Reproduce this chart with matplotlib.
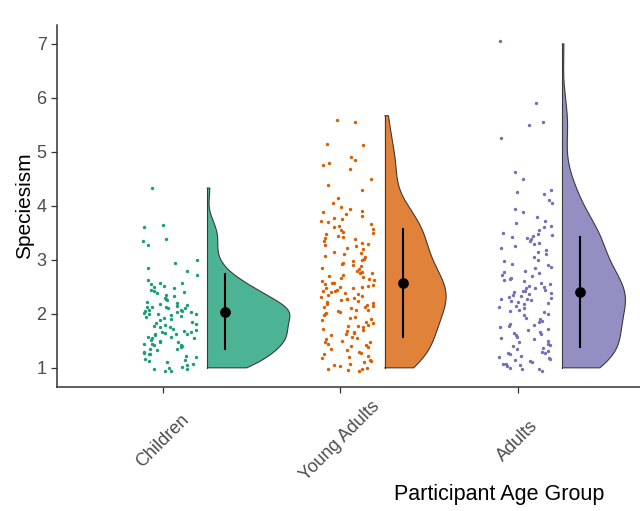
import numpy as np
import matplotlib.pyplot as plt

plt.rcParams['font.family'] = ['Liberation Sans', 'DejaVu Sans']

groups = ["Children", "Young Adults", "Adults"]
colors = ["#1B9E77", "#D95F02", "#7570B3"]

children = [4.33, 3.65, 3.60, 3.38, 3.35, 3.28, 3.00, 2.95, 2.85, 2.80, 2.72,
            2.62, 2.58, 2.57, 2.55, 2.52, 2.50, 2.48,
            2.45, 2.43, 2.40, 2.38, 2.35, 2.33, 2.30, 2.28, 2.25, 2.22, 2.20, 2.18, 2.17,
            2.15, 2.13, 2.12, 2.12, 2.10, 2.10, 2.08, 2.07, 2.05, 2.05, 2.04, 2.03, 2.02,
            2.00, 2.00, 2.00,
            1.98, 1.96, 1.95, 1.93, 1.90, 1.88, 1.85, 1.83, 1.82, 1.80, 1.78, 1.76, 1.75,
            1.72, 1.70, 1.68, 1.67, 1.66, 1.65, 1.63, 1.62, 1.62, 1.60, 1.58, 1.58, 1.55,
            1.55, 1.52, 1.50, 1.48, 1.47, 1.45, 1.45, 1.43, 1.42, 1.40, 1.38, 1.35, 1.35,
            1.33, 1.30, 1.28, 1.25, 1.25, 1.22, 1.20, 1.17, 1.15, 1.13, 1.10, 1.08, 1.05,
            1.02, 1.00, 0.98, 0.97, 0.95, 0.94]

young_adults = [5.60, 5.55, 5.15, 5.13, 4.90, 4.85, 4.80, 4.75, 4.68, 4.50, 4.38, 4.30, 4.15, 4.05,
                3.98, 3.95, 3.90, 3.88, 3.85, 3.82, 3.78, 3.75, 3.72, 3.70, 3.66, 3.62, 3.60, 3.58,
                3.55, 3.52, 3.50, 3.47, 3.45, 3.42, 3.40, 3.38, 3.35, 3.32, 3.30, 3.28, 3.25, 3.22,
                3.20, 3.15, 3.12, 3.10, 3.08, 3.05, 3.02,
                3.00, 2.98, 2.95, 2.93, 2.90, 2.88, 2.85, 2.83, 2.80, 2.78, 2.76, 2.75, 2.72, 2.70,
                2.68, 2.66, 2.65, 2.62, 2.60, 2.58, 2.57, 2.55, 2.53, 2.52, 2.50, 2.50, 2.48, 2.47,
                2.45, 2.43, 2.42, 2.40, 2.38, 2.37, 2.35, 2.33, 2.32, 2.30, 2.28, 2.27, 2.25, 2.23,
                2.22, 2.20, 2.18, 2.17, 2.15, 2.13, 2.12, 2.10, 2.08, 2.07, 2.05, 2.03, 2.02, 2.00,
                1.98, 1.95, 1.93, 1.90, 1.88, 1.85, 1.83, 1.80, 1.78, 1.77, 1.75, 1.72, 1.70, 1.68,
                1.67, 1.65, 1.62, 1.60, 1.58, 1.55, 1.53, 1.50, 1.48, 1.47, 1.45, 1.42, 1.40, 1.38,
                1.35, 1.33, 1.30, 1.28, 1.25, 1.22, 1.20, 1.18, 1.15, 1.12, 1.10, 1.08, 1.05, 1.03,
                1.00, 0.98, 0.97, 0.96, 0.95]

adults = [7.05, 5.90, 5.55, 5.50, 5.25, 4.62, 4.50, 4.30, 4.25, 4.22, 4.10, 4.05, 3.95, 3.88,
          3.80, 3.72, 3.68, 3.62, 3.60, 3.55, 3.50, 3.48, 3.46, 3.45, 3.42, 3.40, 3.38, 3.35,
          3.32, 3.30, 3.25, 3.22, 3.18, 3.15, 3.10, 3.05, 3.00, 2.97, 2.93, 2.90, 2.87, 2.85,
          2.80, 2.78, 2.75, 2.72, 2.70, 2.67, 2.65, 2.62, 2.60, 2.57, 2.55, 2.52, 2.50, 2.48,
          2.47, 2.45, 2.43, 2.42, 2.40, 2.38, 2.37, 2.35, 2.33, 2.32, 2.30, 2.28, 2.27, 2.25,
          2.23, 2.22, 2.20, 2.18, 2.15, 2.12, 2.10, 2.08, 2.05, 2.03, 2.00, 1.97, 1.93, 1.90,
          1.87, 1.85, 1.82, 1.80, 1.77, 1.75, 1.72, 1.70, 1.67, 1.65, 1.62, 1.60, 1.58, 1.55,
          1.53, 1.50, 1.48, 1.45, 1.42, 1.40, 1.37, 1.35, 1.32, 1.30, 1.28, 1.27, 1.25, 1.22,
          1.20, 1.18, 1.17, 1.15, 1.12, 1.10, 1.08, 1.07, 1.05, 1.03, 1.00, 0.98, 0.97, 0.95]

scores = [children, young_adults, adults]
violin_top = [4.33, 5.67, 7.0]
violin_bottom = [1.0, 1.0, 1.0]
means = [2.04, 2.57, 2.41]
sds = [0.70, 1.00, 1.02]


def kde(vals, grid):
    vals = np.asarray(vals)
    n = len(vals)
    iqr = np.subtract(*np.percentile(vals, [75, 25]))
    bw = 0.9 * min(vals.std(ddof=1), iqr / 1.34) * n ** -0.2
    z = (grid[:, None] - vals[None, :]) / bw
    return np.exp(-0.5 * z ** 2).sum(axis=1) / (n * bw * np.sqrt(2 * np.pi))


fig = plt.figure(figsize=(6.4, 5.11), dpi=100)
ax = fig.add_axes([0.089, 0.243, 0.911, 0.708])

# max half-violin width per group, in x units
half_widths = [0.465, 0.345, 0.355]

for i, (vals, col) in enumerate(zip(scores, colors)):
    pos = i + 1
    n = len(vals)
    # sideways spread of the points (horizontal position only)
    offs = (np.sin(np.arange(n) * 91.3458 + pos * 78.233) * 47453.5453) % 1.0
    ax.scatter(pos + 0.04 + (offs - 0.5) * 0.30, vals, s=6, color=col, lw=0, zorder=2)

    g = np.linspace(violin_bottom[i], violin_top[i], 400)
    d = kde(np.clip(vals, violin_bottom[i], violin_top[i]), g)
    x0 = pos + 0.25
    w = d / d.max() * half_widths[i]
    xs = np.concatenate([[x0], x0 + w, [x0]])
    ys = np.concatenate([[g[0]], g, [g[-1]]])
    ax.fill(xs, ys, facecolor=col, alpha=0.78, edgecolor="none", zorder=3)
    ax.plot(xs, ys, color="#3a3a3a", lw=0.8, zorder=4)
    ax.plot([x0, x0], [g[0], g[-1]], color="#3a3a3a", lw=0.8, zorder=4)

    ax.plot([pos + 0.35] * 2, [means[i] - sds[i], means[i] + sds[i]], color="black", lw=1.5, zorder=5)
    ax.scatter([pos + 0.35], [means[i]], s=45, color="black", zorder=6)

ax.set_xlim(0.403, 3.687)
ax.set_ylim(0.648, 7.35)
ax.set_yticks([1, 2, 3, 4, 5, 6, 7])
ax.set_xticks([1, 2, 3])
ax.set_xticklabels(groups, rotation=45, ha="center", va="center", rotation_mode="anchor")

for s in ["top", "right"]:
    ax.spines[s].set_visible(False)
for s in ["left", "bottom"]:
    ax.spines[s].set_color("#333333")
    ax.spines[s].set_linewidth(1.1)
ax.tick_params(colors="#333333", labelcolor="#4d4d4d", labelsize=13, length=4, width=0.9)
ax.tick_params(axis="x", pad=35)

ax.set_ylabel("Speciesism", fontsize=15, labelpad=1.5)
ax.set_xlabel("Participant Age Group", fontsize=15.5, va="center")
ax.xaxis.set_label_coords(0.758, -0.298)

fig.savefig("out.png", dpi=100)
